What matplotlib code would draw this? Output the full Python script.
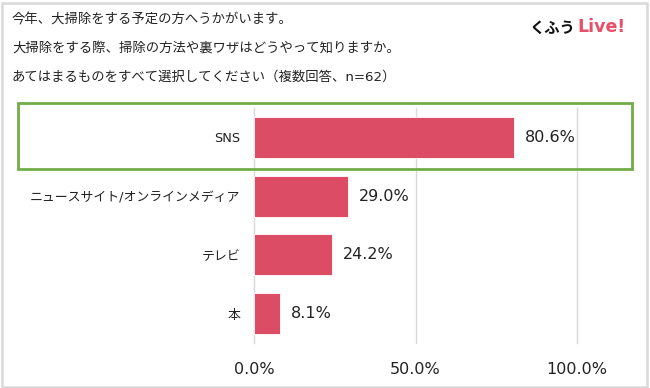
import matplotlib.pyplot as plt
from matplotlib.patches import Rectangle

W, H = 650, 388

categories = ["SNS", "ニュースサイト/オンラインメディア", "テレビ", "本"]
values = [80.6, 29.0, 24.2, 8.1]
xticks = [0, 50, 100]
xtick_labels = ["0.0%", "50.0%", "100.0%"]
title_lines = [
    "今年、大掃除をする予定の方へうかがいます。",
    "大掃除をする際、掃除の方法や裏ワザはどうやって知りますか。",
    "あてはまるものをすべて選択してください（複数回答、n=62）",
]

BAR = "#DC4C64"
PINK = "#E8506A"
GREEN = "#70AD47"
GRID = "#D9D9D9"
INK = "#222222"
JP = ["Noto Sans CJK JP", "DejaVu Sans"]
MIX = ["DejaVu Sans", "Noto Sans CJK JP"]
NUM = ["DejaVu Sans"]

plt.rcParams["font.family"] = JP

fig = plt.figure(figsize=(W / 100, H / 100), dpi=100)


def px(x0, y0, x1, y1):
    return [x0 / W, 1 - y1 / H, (x1 - x0) / W, (y1 - y0) / H]


# outer frame
fig.patches.append(Rectangle((1.5 / W, 1.5 / H), (W - 5) / W, (H - 4) / H,
                             transform=fig.transFigure, fill=False,
                             edgecolor=GRID, linewidth=1.8))

for i, line in enumerate(title_lines):
    fig.text(12 / W, 1 - (20 + i * 28.5) / H, line, fontsize=9.6, color=INK,
             va="center", ha="left", family=MIX)

fig.text(575 / W, 1 - 28 / H, "くふう", fontsize=11, fontweight="bold",
         color="#111111", ha="right", va="center", family=JP)
fig.text(577 / W, 1 - 27 / H, "Live!", fontsize=12.5, fontweight="bold",
         color=PINK, ha="left", va="center", family=NUM)

ax = fig.add_axes(px(254.3, 108, 576.7, 343))
y = list(range(len(categories)))
ax.barh(y, values, height=0.7, color=BAR, edgecolor="white", linewidth=0.6, zorder=3)
for yi, v in zip(y, values):
    ax.text(v + 3.3, yi, f"{v:.1f}%", va="center", ha="left", fontsize=11.5,
            color=INK, family=NUM)

ax.set_xlim(0, 100)
ax.set_ylim(len(categories) - 0.5, -0.5)
ax.set_xticks(xticks)
ax.set_xticklabels(xtick_labels, fontsize=11.5, color=INK, family=NUM)
ax.set_yticks(y)
ax.set_yticklabels(categories, fontsize=9.3, color=INK, family=MIX)
ax.tick_params(axis="both", length=0)
ax.tick_params(axis="x", pad=14)
ax.tick_params(axis="y", pad=10)
ax.xaxis.grid(True, color=GRID, linewidth=1.0, zorder=0)
for gl in ax.get_xgridlines():
    gl.set_clip_on(False)
for s in ax.spines.values():
    s.set_visible(False)
ax.set_facecolor("none")

# highlight box around the top row
fig.patches.append(Rectangle((18 / W, 1 - 169 / H), (632 - 18) / W, (169 - 103) / H,
                             transform=fig.transFigure, fill=False,
                             edgecolor=GREEN, linewidth=2.0, zorder=5))

fig.savefig("out.png", dpi=100)
